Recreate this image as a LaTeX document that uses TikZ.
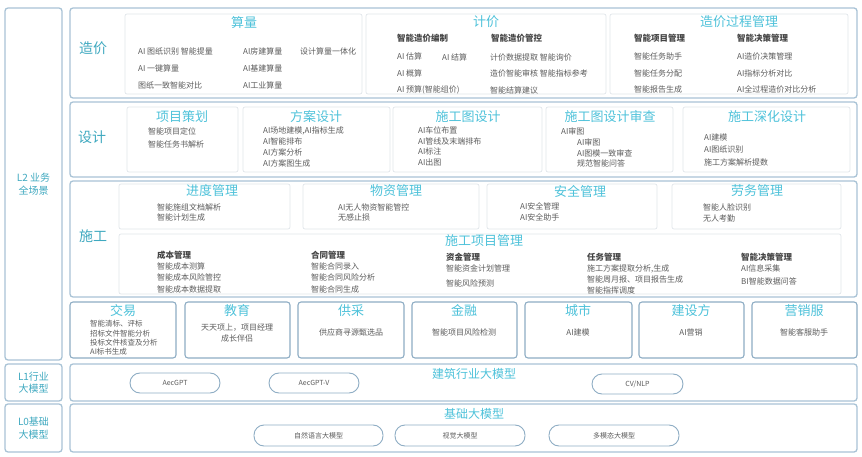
\documentclass[tikz,border=0pt]{standalone}
\usepackage{fontspec}
\setmainfont{Noto Sans CJK SC}
\definecolor{cTtl}{HTML}{4EC2DA}
\definecolor{cLbl}{HTML}{3FA9C0}
\definecolor{cTxt}{HTML}{5C5C5C}
\definecolor{cHdr}{HTML}{444444}
\definecolor{cRow}{HTML}{A9C3D6}
\definecolor{cIn}{HTML}{E1E6EB}
\definecolor{cInd}{HTML}{8EADC4}
\newcommand\bx[6]{\node[#2, minimum width={(#5)-(#3)}, minimum height={(#6)-(#4)}] (#1) at ({((#3)+(#5))/2},{((#4)+(#6))/2}) {};}
\begin{document}
\begin{tikzpicture}[x=1pt,y=-1pt,
  rowbox/.style={draw=cRow, line width=1.3pt, rounded corners=3pt, inner sep=0pt},
  inbox/.style={draw=cIn, line width=0.7pt, rounded corners=2pt, inner sep=0pt},
  indbox/.style={draw=cInd, line width=1.1pt, rounded corners=3pt, inner sep=0pt},
  pill/.style={draw=cInd, line width=0.9pt, rounded corners=10pt, inner sep=0pt, text=cTxt, font=\fontsize{7}{8}\selectfont},
  ttlA/.style={text=cTtl, font=\fontsize{13}{14}\selectfont, inner sep=0pt},
  ttlB/.style={text=cTtl, font=\fontsize{12}{13}\selectfont, inner sep=0pt},
  lblA/.style={text=cLbl, font=\fontsize{14}{15}\selectfont, inner sep=0pt},
  lblB/.style={text=cLbl, font=\fontsize{10}{12.5}\selectfont, align=center, inner sep=0pt},
  hdr/.style={text=cHdr, font=\fontsize{8.5}{10}\selectfont\bfseries, anchor=west, inner sep=0pt},
  itm/.style={text=cTxt, font=\fontsize{8}{#1}\selectfont, align=left, anchor=west, inner sep=0pt},
  itm/.default=11,
  itc/.style={text=cTxt, font=\fontsize{8}{11}\selectfont, align=center, inner sep=0pt}
]
\useasboundingbox (0,0) rectangle (862,457);
\fill[white] (0,0) rectangle (862,457);

% left column
\bx{lL2}{rowbox}{5}{8}{62}{360}
\node[lblB] (tL2) at (lL2.center) {L2 业务\\全场景};
\bx{lL1}{rowbox}{5}{364}{62}{401}
\node[lblB] (tL1) at (lL1.center) {L1行业\\大模型};
\bx{lL0}{rowbox}{5}{404}{62}{452}
\node[lblB] (tL0) at (lL0.center) {L0基础\\大模型};

% ===== 造价 =====
\bx{rZJ}{rowbox}{70}{8}{857}{98}
\node[lblA] (tZJ) at (93,48) {造价};
\bx{bSL}{inbox}{125}{14}{362}{94}
\bx{bJJ}{inbox}{366}{14}{606}{94}
\bx{bGC}{inbox}{610}{14}{848}{94}
\node[ttlA] (tSL) at (244,23) {算量};
\node[ttlA] (tJJ) at (486,22) {计价};
\node[ttlA] (tGC) at (739,22) {造价过程管理};
\node[itm=17] (iSL1) at (138,68) {AI 图纸识别 智能提量\\AI 一键算量\\图纸一致智能对比};
\node[itm=17] (iSL2) at (243,68) {AI房建算量\\AI基建算量\\AI工业算量};
\node[itm] (iSL3) at (300,51) {设计算量一体化};
\node[hdr] (hJJ1) at (397,38) {智能造价编制};
\node[hdr] (hJJ2) at (491,38) {智能造价管控};
\node[itm=16.5] (iJJ1) at (397,73.5) {AI 估算\\AI 概算\\AI 预算(智能组价)};
\node[itm] (iJJ2) at (442,57) {AI 结算};
\node[itm=16.5] (iJJ3) at (490,73.5) {计价数据提取 智能询价\\造价智能审核 智能指标参考\\智能结算建议};
\node[hdr] (hGC1) at (634,38) {智能项目管理};
\node[hdr] (hGC2) at (737,38) {智能决策管理};
\node[itm=16.5] (iGC1) at (634,73) {智能任务助手\\智能任务分配\\智能报告生成};
\node[itm=16.5] (iGC2) at (737,73) {AI造价决策管理\\AI指标分析对比\\AI全过程造价对比分析};

% ===== 设计 =====
\bx{rSJ}{rowbox}{70}{102}{857}{177}
\node[lblA] (tSJ) at (92,137) {设计};
\bx{bXM}{inbox}{127}{107}{238}{172}
\bx{bFA}{inbox}{243}{107}{390}{172}
\bx{bST}{inbox}{393}{107}{542}{172}
\bx{bSC}{inbox}{546}{107}{673}{172}
\bx{bSH}{inbox}{683}{107}{850}{172}
\node[ttlA] (tXM) at (182,117) {项目策划};
\node[ttlA] (tFA) at (316,117) {方案设计};
\node[ttlA] (tST) at (468,117) {施工图设计};
\node[ttlA] (tSC) at (610,117) {施工图设计审查};
\node[ttlA] (tSH) at (767,117) {施工深化设计};
\node[itm=13] (iXM) at (148,137.5) {智能项目定位\\智能任务书解析};
\node[itm=11.3] (iFA) at (263,147) {AI场地建模,AI指标生成\\AI智能排布\\AI方案分析\\AI方案图生成};
\node[itm=10.4] (iST) at (418,146.5) {AI车位布置\\AI管线及末端排布\\AI标注\\AI出图};
\node[itm] (iSC1) at (561,131) {AI审图};
\node[itm=10.3] (iSC2) at (577,153) {AI审图\\AI图模一致审查\\规范智能问答};
\node[itm=12.5] (iSH) at (704,149.5) {AI建模\\AI图纸识别\\施工方案解析提数};

% ===== 施工 =====
\bx{rSG}{rowbox}{70}{181}{857}{297}
\node[lblA] (tSG) at (93,236) {施工};
\bx{bJD}{inbox}{119}{184}{290}{229}
\bx{bWZ}{inbox}{303}{184}{479}{229}
\bx{bAQ}{inbox}{487}{184}{657}{229}
\bx{bLW}{inbox}{672}{184}{841}{229}
\node[ttlA] (tJD) at (212,191) {进度管理};
\node[ttlA] (tWZ) at (396,191) {物资管理};
\node[ttlA] (tAQ) at (580,191) {安全管理};
\node[ttlA] (tLW) at (757,191) {劳务管理};
\node[itm=10.5] (iJD) at (157,212.5) {智能施组文档解析\\智能计划生成};
\node[itm=10.5] (iWZ) at (338,212.5) {AI无人物资智能管控\\无感止损};
\node[itm=10.5] (iAQ) at (520,212) {AI安全管理\\AI安全助手};
\node[itm=10.5] (iLW) at (703,213) {智能人脸识别\\无人考勤};
\bx{bPM}{inbox}{119}{234}{841}{294}
\node[ttlA, anchor=west] (tPM) at (445,241) {施工项目管理};
\node[hdr] (hCB) at (157,255) {成本管理};
\node[itm=11.5] (iCB) at (157,277.5) {智能成本测算\\智能成本风险管控\\智能成本数据提取};
\node[hdr] (hHT) at (311,255) {合同管理};
\node[itm=11.5] (iHT) at (311,277.5) {智能合同录入\\智能合同风险分析\\智能合同生成};
\node[hdr] (hZJ) at (446,257) {资金管理};
\node[itm=14.5] (iZJ) at (446,276) {智能资金计划管理\\智能风险预测};
\node[hdr] (hRW) at (587,257) {任务管理};
\node[itm=11] (iRW) at (587,279) {施工方案提取分析,生成\\智能周月报、项目报告生成\\智能指挥调度};
\node[hdr] (hJC) at (741,257) {智能决策管理};
\node[itm=13] (iJC) at (741,274.5) {AI信息采集\\BI智能数据问答};

% ===== 行业 =====
\bx{bJY}{indbox}{70}{302}{176}{358}
\bx{bJYU}{indbox}{185}{302}{290}{358}
\bx{bGCa}{indbox}{298}{302}{404}{358}
\bx{bJR}{indbox}{412}{302}{517}{358}
\bx{bCS}{indbox}{525}{302}{632}{358}
\bx{bJS}{indbox}{639}{302}{744}{358}
\bx{bYX}{indbox}{752}{302}{857}{358}
\node[ttlA] (tJY) at (123,311) {交易};
\node[ttlA] (tJYU) at (237,311) {教育};
\node[ttlA] (tGCa) at (351,311) {供采};
\node[ttlA] (tJR) at (464,311) {金融};
\node[ttlA] (tCS) at (578,311) {城市};
\node[ttlA] (tJS) at (691,311) {建设方};
\node[ttlA] (tYX) at (804,311) {营销服};
\node[text=cTxt, font=\fontsize{7.5}{9.4}\selectfont, align=left, anchor=west, inner sep=0pt] (iJY) at (90,338) {智能清标、评标\\招标文件智能分析\\投标文件核查及分析\\AI标书生成};
\node[itc] (iJYU) at (237,333) {天天项上，项目经理\\成长伴侣};
\node[itc] (iGCa) at (351,332) {供应商寻源甄选品};
\node[itc] (iJR) at (464,332) {智能项目风险检测};
\node[itc] (iCS) at (578,332) {AI建模};
\node[itc] (iJS) at (691,332) {AI营销};
\node[itc] (iYX) at (804,332) {智能客服助手};

% ===== L1 =====
\bx{rL1}{rowbox}{70}{364}{857}{401}
\node[ttlB] (tL1m) at (474,374) {建筑行业大模型};
\bx{pA}{pill}{130}{373}{220}{393}
\node[text=cTxt, font=\fontsize{7}{8}\selectfont] (xA) at (pA.center) {AecGPT};
\bx{pB}{pill}{269}{373}{359}{393}
\node[text=cTxt, font=\fontsize{7}{8}\selectfont] (xB) at (pB.center) {AecGPT-V};
\bx{pC}{pill}{592}{374}{683}{394}
\node[text=cTxt, font=\fontsize{7}{8}\selectfont] (xC) at (pC.center) {CV/NLP};

% ===== L0 =====
\bx{rL0}{rowbox}{70}{404}{857}{452}
\node[ttlB] (tL0m) at (474,414) {基础大模型};
\bx{pD}{pill}{254}{425}{383}{446}
\node[text=cTxt, font=\fontsize{7}{8}\selectfont] (xD) at (pD.center) {自然语言大模型};
\bx{pE}{pill}{395}{425}{525}{446}
\node[text=cTxt, font=\fontsize{7}{8}\selectfont] (xE) at (pE.center) {视觉大模型};
\bx{pF}{pill}{549}{425}{679}{446}
\node[text=cTxt, font=\fontsize{7}{8}\selectfont] (xF) at (pF.center) {多模态大模型};
\end{tikzpicture}
\end{document}
